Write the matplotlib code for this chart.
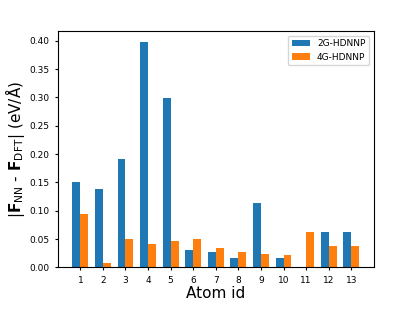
import numpy as np
import matplotlib.pyplot as plt

atoms = np.arange(1, 14)
err_2g = [0.151, 0.138, 0.191, 0.397, 0.299, 0.030, 0.028, 0.016, 0.113, 0.016, 0.0, 0.062, 0.062]
err_4g = [0.095, 0.007, 0.051, 0.042, 0.046, 0.051, 0.035, 0.028, 0.024, 0.022, 0.063, 0.037, 0.037]

w = 0.35
fig = plt.figure(figsize=(4.15, 3.11), dpi=100)
ax = fig.add_axes([0.14, 0.14, 0.76, 0.76])
ax.bar(atoms, err_2g, width=-w, align='edge', color='tab:blue', label='2G-HDNNP')
ax.bar(atoms, err_4g, width=w, align='edge', color='tab:orange', label='4G-HDNNP')
ax.set_xticks(atoms)
ax.tick_params(labelsize=6.5, length=2.5)
ax.set_xlabel('Atom id', fontsize=11, labelpad=1)
ax.set_ylabel(r'|$\mathbf{F}_{\rm NN}$ - $\mathbf{F}_{\rm DFT}$| (eV/Å)', fontsize=11, labelpad=2)
ax.legend(fontsize=6.5)
fig.savefig('out.png')
